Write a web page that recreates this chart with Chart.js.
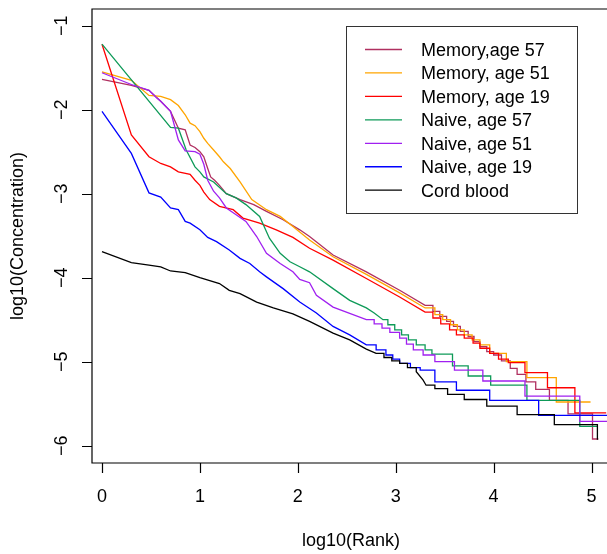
<!DOCTYPE html>
<html>
<head>
<meta charset="utf-8">
<script src="https://cdn.jsdelivr.net/npm/chart.js@4.4.1/dist/chart.umd.min.js"></script>
<style>
  html, body { margin: 0; padding: 0; background: #fff; overflow: hidden; }
</style>
</head>
<body>
<canvas id="myChart01" width="607" height="554"></canvas>
<script>
// series: [log10(rank), log10(concentration)]
var memory57 = [[0,-1.64],[0.30,-1.71],[0.48,-1.77],[0.60,-1.90],[0.70,-2.02],[0.78,-2.22],[0.85,-2.24],[0.90,-2.42],[0.95,-2.45],[1.00,-2.50],[1.04,-2.56],[1.08,-2.70],[1.11,-2.80],[1.15,-2.84],[1.20,-2.90],[1.27,-3.00],[1.41,-3.07],[1.55,-3.13],[1.68,-3.21],[1.85,-3.31],[2.02,-3.43],[2.12,-3.51],[2.36,-3.73],[2.70,-3.93],[3.04,-4.15],[3.30,-4.33],[3.38,-4.33],[3.38,-4.40],[3.45,-4.40],[3.45,-4.46],[3.52,-4.46],[3.52,-4.52],[3.59,-4.52],[3.59,-4.58],[3.66,-4.58],[3.66,-4.64],[3.74,-4.64],[3.74,-4.70],[3.80,-4.70],[3.80,-4.76],[3.86,-4.76],[3.86,-4.82],[3.93,-4.82],[3.93,-4.88],[4.00,-4.88],[4.00,-4.92],[4.08,-4.92],[4.08,-4.99],[4.17,-4.99],[4.17,-5.08],[4.24,-5.08],[4.24,-5.15],[4.33,-5.15],[4.33,-5.24],[4.43,-5.24],[4.43,-5.33],[4.57,-5.33],[4.57,-5.46],[4.76,-5.46],[4.76,-5.62],[5.01,-5.62],[5.01,-5.92],[5.07,-5.92]];
var memory51 = [[0,-1.55],[0.30,-1.65],[0.48,-1.83],[0.60,-1.84],[0.70,-1.88],[0.78,-1.95],[0.85,-2.06],[0.90,-2.16],[0.95,-2.19],[1.00,-2.26],[1.04,-2.34],[1.08,-2.40],[1.14,-2.48],[1.20,-2.56],[1.24,-2.62],[1.31,-2.70],[1.41,-2.86],[1.53,-3.07],[1.68,-3.19],[1.82,-3.27],[1.95,-3.39],[2.12,-3.55],[2.36,-3.75],[2.70,-3.96],[3.04,-4.18],[3.30,-4.36],[3.40,-4.36],[3.40,-4.44],[3.48,-4.44],[3.48,-4.50],[3.56,-4.50],[3.56,-4.56],[3.63,-4.56],[3.63,-4.62],[3.70,-4.62],[3.70,-4.68],[3.78,-4.68],[3.78,-4.74],[3.86,-4.74],[3.86,-4.80],[3.96,-4.80],[3.96,-4.90],[4.13,-4.90],[4.13,-5.00],[4.34,-5.00],[4.34,-5.19],[4.64,-5.19],[4.64,-5.48],[4.99,-5.48]];
var memory19 = [[0,-1.22],[0.30,-2.30],[0.48,-2.56],[0.60,-2.64],[0.70,-2.68],[0.78,-2.74],[0.90,-2.77],[0.95,-2.84],[1.00,-2.90],[1.04,-2.98],[1.10,-3.07],[1.20,-3.15],[1.34,-3.19],[1.44,-3.29],[1.61,-3.35],[1.78,-3.43],[1.95,-3.52],[2.12,-3.65],[2.36,-3.79],[2.70,-4.01],[3.04,-4.23],[3.30,-4.41],[3.38,-4.41],[3.38,-4.48],[3.46,-4.48],[3.46,-4.55],[3.55,-4.55],[3.55,-4.62],[3.62,-4.62],[3.62,-4.68],[3.70,-4.68],[3.70,-4.72],[3.79,-4.72],[3.79,-4.78],[3.86,-4.78],[3.86,-4.84],[3.96,-4.84],[3.96,-4.90],[4.05,-4.90],[4.05,-4.97],[4.15,-4.97],[4.15,-5.01],[4.32,-5.01],[4.32,-5.13],[4.55,-5.13],[4.55,-5.31],[4.83,-5.31],[4.83,-5.61],[5.15,-5.61]];
var naive57 = [[0,-1.22],[0.70,-2.21],[0.78,-2.22],[0.86,-2.48],[0.95,-2.68],[1.00,-2.74],[1.04,-2.80],[1.14,-2.86],[1.27,-3.00],[1.37,-3.05],[1.47,-3.13],[1.61,-3.27],[1.71,-3.53],[1.82,-3.71],[1.92,-3.81],[2.02,-3.87],[2.12,-3.93],[2.36,-4.13],[2.53,-4.27],[2.70,-4.36],[2.78,-4.42],[2.87,-4.50],[2.92,-4.50],[2.92,-4.56],[2.99,-4.56],[2.99,-4.62],[3.06,-4.62],[3.06,-4.68],[3.13,-4.68],[3.13,-4.74],[3.21,-4.74],[3.21,-4.80],[3.30,-4.80],[3.30,-4.86],[3.37,-4.86],[3.37,-4.91],[3.58,-4.91],[3.58,-5.05],[3.74,-5.05],[3.74,-5.17],[3.97,-5.17],[3.97,-5.28],[4.34,-5.28],[4.34,-5.46],[4.88,-5.46],[4.88,-5.77],[5.06,-5.77]];
var naive51 = [[0,-1.56],[0.30,-1.70],[0.48,-1.77],[0.56,-1.86],[0.60,-1.90],[0.70,-2.02],[0.78,-2.36],[0.85,-2.49],[0.95,-2.50],[1.00,-2.53],[1.04,-2.65],[1.08,-2.84],[1.14,-2.97],[1.20,-3.05],[1.27,-3.17],[1.37,-3.25],[1.47,-3.33],[1.58,-3.51],[1.68,-3.71],[1.82,-3.83],[1.95,-3.93],[2.02,-4.02],[2.12,-4.06],[2.19,-4.21],[2.36,-4.35],[2.70,-4.50],[2.78,-4.50],[2.78,-4.55],[2.86,-4.55],[2.86,-4.60],[2.94,-4.60],[2.94,-4.65],[3.04,-4.65],[3.04,-4.72],[3.11,-4.72],[3.11,-4.79],[3.18,-4.79],[3.18,-4.86],[3.28,-4.86],[3.28,-4.92],[3.40,-4.92],[3.40,-5.00],[3.60,-5.00],[3.60,-5.10],[3.89,-5.10],[3.89,-5.23],[4.32,-5.23],[4.32,-5.41],[4.88,-5.41],[4.88,-5.71],[5.16,-5.71]];
var naive19 = [[0,-2.02],[0.30,-2.52],[0.48,-2.99],[0.60,-3.04],[0.70,-3.17],[0.78,-3.19],[0.85,-3.33],[0.90,-3.35],[1.00,-3.43],[1.08,-3.52],[1.17,-3.57],[1.30,-3.67],[1.41,-3.77],[1.51,-3.83],[1.61,-3.93],[1.68,-3.99],[1.85,-4.13],[2.02,-4.29],[2.19,-4.42],[2.36,-4.58],[2.53,-4.68],[2.70,-4.80],[2.80,-4.80],[2.80,-4.86],[2.90,-4.86],[2.90,-4.92],[2.97,-4.92],[2.97,-4.97],[3.04,-4.97],[3.04,-5.02],[3.15,-5.02],[3.15,-5.07],[3.25,-5.07],[3.25,-5.10],[3.40,-5.10],[3.40,-5.24],[3.62,-5.24],[3.62,-5.34],[3.96,-5.34],[3.96,-5.46],[4.46,-5.46],[4.46,-5.64],[5.16,-5.64]];
var cordBlood = [[0,-3.69],[0.30,-3.82],[0.48,-3.85],[0.60,-3.87],[0.70,-3.92],[0.85,-3.94],[1.00,-4.00],[1.20,-4.07],[1.30,-4.15],[1.41,-4.19],[1.58,-4.29],[1.75,-4.36],[1.95,-4.43],[2.12,-4.52],[2.36,-4.66],[2.53,-4.74],[2.70,-4.85],[2.80,-4.90],[2.88,-4.90],[2.88,-4.95],[2.96,-4.95],[2.96,-4.99],[3.04,-4.99],[3.04,-5.02],[3.12,-5.02],[3.12,-5.07],[3.21,-5.07],[3.21,-5.12],[3.28,-5.22],[3.31,-5.28],[3.40,-5.28],[3.40,-5.32],[3.53,-5.32],[3.53,-5.39],[3.70,-5.39],[3.70,-5.45],[3.93,-5.45],[3.93,-5.53],[4.24,-5.53],[4.24,-5.63],[4.62,-5.63],[4.62,-5.75],[5.06,-5.75],[5.06,-5.93]];

var seriesLabels = ["Memory,age 57", "Memory, age 51", "Memory, age 19", "Naive, age 57", "Naive, age 51", "Naive, age 19", "Cord blood"];
var xTicks = [0, 1, 2, 3, 4, 5];
var yTicks = [-6, -5, -4, -3, -2, -1];
var xTitle = "log10(Rank)";
var yTitle = "log10(Concentration)";

var allSeries = [memory57, memory51, memory19, naive57, naive51, naive19, cordBlood];
var lineColors = ["#B03060", "#FFA500", "#FF0000", "#0E9A58", "#A020F0", "#0000FF", "#000000"];
var FONT = '18px "Liberation Sans", Arial, sans-serif';

// R style axes, box and legend drawn on top of the chart
var rAxes = {
    id: 'rAxes',
    afterDraw: function (chart) {
        var ctx = chart.ctx;
        var a = chart.chartArea;
        var xs = chart.scales.x, ys = chart.scales.y;
        ctx.save();
        ctx.strokeStyle = "#000";
        ctx.fillStyle = "#000";
        ctx.lineWidth = 1.2;

        // box (right side falls off the canvas)
        ctx.beginPath();
        ctx.moveTo(a.right + 5, a.top);
        ctx.lineTo(a.left, a.top);
        ctx.lineTo(a.left, a.bottom);
        ctx.lineTo(a.right + 5, a.bottom);
        ctx.stroke();

        ctx.font = FONT;
        // x axis
        ctx.beginPath();
        xTicks.forEach(function (v) {
            var px = Math.round(xs.getPixelForValue(v)) + 0.5;
            ctx.moveTo(px, a.bottom);
            ctx.lineTo(px, a.bottom + 10);
        });
        ctx.stroke();
        ctx.textAlign = "center";
        ctx.textBaseline = "alphabetic";
        xTicks.forEach(function (v) {
            ctx.fillText(String(v), xs.getPixelForValue(v), 502);
        });
        ctx.fillText(xTitle, 351, 546);

        // y axis
        ctx.beginPath();
        yTicks.forEach(function (v) {
            var py = Math.round(ys.getPixelForValue(v)) + 0.5;
            ctx.moveTo(a.left, py);
            ctx.lineTo(a.left - 10, py);
        });
        ctx.stroke();
        yTicks.forEach(function (v) {
            ctx.save();
            ctx.translate(67, ys.getPixelForValue(v));
            ctx.rotate(-Math.PI / 2);
            ctx.fillText("\u2212" + Math.abs(v), 0, 0);
            ctx.restore();
        });
        ctx.save();
        ctx.translate(23, (a.top + a.bottom) / 2);
        ctx.rotate(-Math.PI / 2);
        ctx.fillText(yTitle, 0, 0);
        ctx.restore();

        // legend
        ctx.lineWidth = 1;
        ctx.strokeStyle = "#333";
        ctx.strokeRect(346.5, 26.5, 231, 187);
        ctx.textAlign = "left";
        chart.data.datasets.forEach(function (ds, i) {
            var ly = 49.5 + i * 23.45;
            ctx.strokeStyle = ds.borderColor;
            ctx.lineWidth = 1.3;
            ctx.beginPath();
            ctx.moveTo(365, ly);
            ctx.lineTo(402, ly);
            ctx.stroke();
            ctx.fillStyle = "#000";
            ctx.fillText(ds.label, 421, ly + 6.5);
        });
        ctx.restore();
    }
};

var chartPlaceholder01 = document.getElementById("myChart01");
var newChart01 = new Chart(chartPlaceholder01, {
    type: 'scatter',
    data: {
        datasets: allSeries.map(function (pts, i) {
            return {
                label: seriesLabels[i],
                data: pts.map(function (p) { return { x: p[0], y: p[1] }; }),
                showLine: true,
                borderColor: lineColors[i],
                backgroundColor: lineColors[i],
                borderWidth: 1.3,
                pointRadius: 0,
                tension: 0,
                fill: false,
                order: allSeries.length - i
            };
        })
    },
    options: {
        responsive: false,
        animation: false,
        layout: { padding: { left: 92, top: 9, right: 0, bottom: 91 } },
        scales: {
            x: { type: 'linear', min: -0.102, max: 5.158, display: false },
            y: { type: 'linear', min: -6.206, max: -0.801, display: false }
        },
        plugins: {
            legend: { display: false },
            tooltip: { enabled: false }
        }
    },
    plugins: [rAxes]
});
</script>
</body>
</html>
